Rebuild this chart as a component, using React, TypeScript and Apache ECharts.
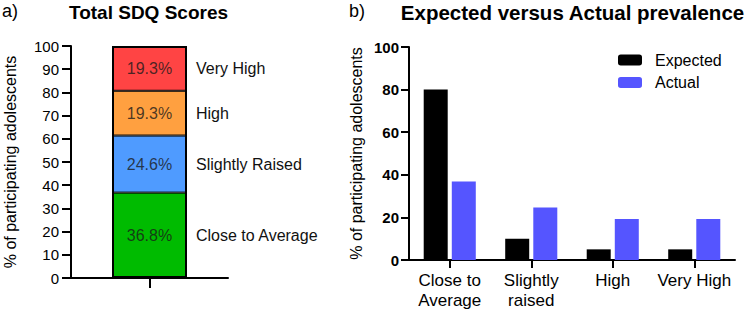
import React, { useEffect, useRef } from 'react';
import * as echarts from 'echarts';

// ---- Data ----
const sdqCategories = ['Close to Average', 'Slightly Raised', 'High', 'Very High'];
const sdqPercentages = [36.8, 24.6, 19.3, 19.3];
const sdqAxis = { min: 0, max: 100, interval: 10 };

const prevalenceCategories = ['Close to\nAverage', 'Slightly\nraised', 'High', 'Very High'];
const expectedValues = [80, 10, 5, 5];
const actualValues = [36.8, 24.6, 19.3, 19.3];
const prevalenceAxis = { min: 0, max: 100, interval: 20 };

const yAxisTitle = '% of participating adolescents';

// ---- Styles ----
const FONT = '"Liberation Sans", Arial, Helvetica, sans-serif';
const sdqColors = ['#00BB00', '#4F9BFF', '#FFA040', '#FF4444'];
const expectedColor = '#000000';
const actualColor = '#5555FF';

export default function App() {
  const ref = useRef<HTMLDivElement>(null);

  useEffect(() => {
    if (!ref.current) return;
    const chart = echarts.init(ref.current, undefined, { renderer: 'svg' });

    // midpoints of each stacked segment for the inside % labels
    const mids: number[] = [];
    let acc = 0;
    sdqPercentages.forEach((v) => {
      mids.push(acc + v / 2);
      acc += v;
    });
    const total = acc;

    const stackSeries = sdqCategories.map((name, i) => ({
      type: 'bar',
      name,
      stack: 'sdq',
      xAxisIndex: 0,
      yAxisIndex: 0,
      data: [sdqPercentages[i]],
      barWidth: 75,
      barGap: '-100%',
      itemStyle: { color: sdqColors[i], borderColor: '#000', borderWidth: 1 },
      label: {
        show: true,
        position: 'right',
        distance: 9,
        formatter: name,
        fontSize: 16,
        color: '#111',
        fontFamily: FONT,
      },
      emphasis: { disabled: true },
    }));

    const frameSeries = {
      type: 'bar',
      name: 'frame',
      xAxisIndex: 0,
      yAxisIndex: 0,
      data: [total],
      barWidth: 75,
      barGap: '-100%',
      itemStyle: { color: 'rgba(0,0,0,0)', borderColor: '#000', borderWidth: 2 },
      z: 3,
      silent: true,
      emphasis: { disabled: true },
    };

    const pctSeries = {
      type: 'scatter',
      name: 'pct',
      xAxisIndex: 0,
      yAxisIndex: 0,
      symbolSize: 1,
      itemStyle: { color: 'rgba(0,0,0,0)' },
      data: mids.map((m) => [0, m]),
      label: {
        show: true,
        position: 'inside',
        formatter: (p: any) => `${sdqPercentages[p.dataIndex]}%`,
        fontSize: 16,
        color: '#1a1a1a',
        fontFamily: FONT,
      },
      z: 5,
      emphasis: { disabled: true },
    };

    const axisLineStyle = { lineStyle: { color: '#000', width: 2 } };

    chart.setOption({
      animation: false,
      textStyle: { fontFamily: FONT },
      grid: [
        { left: 71, top: 46, width: 157, height: 232 },
        { left: 409, top: 47, width: 326, height: 213 },
      ],
      legend: {
        data: ['Expected', 'Actual'],
        orient: 'vertical',
        left: 618,
        top: 52,
        padding: 0,
        itemWidth: 24,
        itemHeight: 11,
        itemGap: 6.5,
        textStyle: { fontSize: 16, color: '#000', fontFamily: FONT, padding: [0, 0, 0, 8] },
        selectedMode: false,
      },
      xAxis: [
        {
          type: 'category',
          gridIndex: 0,
          data: [''],
          axisLine: { show: true, ...axisLineStyle },
          axisTick: { show: true, alignWithLabel: true, length: 10, lineStyle: { color: '#000', width: 2 } },
          axisLabel: { show: false },
        },
        {
          type: 'category',
          gridIndex: 1,
          data: prevalenceCategories,
          axisLine: { show: true, ...axisLineStyle },
          axisTick: { show: true, alignWithLabel: true, length: 8, lineStyle: { color: '#000', width: 2 } },
          axisLabel: { fontSize: 17, lineHeight: 20, color: '#000', margin: 10, fontFamily: FONT, interval: 0 },
        },
      ],
      yAxis: [
        {
          type: 'value',
          gridIndex: 0,
          min: sdqAxis.min,
          max: sdqAxis.max,
          interval: sdqAxis.interval,
          axisLine: { show: true, ...axisLineStyle },
          axisTick: { show: true, length: 9, lineStyle: { color: '#000', width: 2 } },
          axisLabel: { fontSize: 15, color: '#000', margin: 12, fontFamily: FONT },
          splitLine: { show: false },
          name: yAxisTitle,
          nameLocation: 'middle',
          nameGap: 53,
          nameTextStyle: { fontSize: 16, color: '#000', fontFamily: FONT },
        },
        {
          type: 'value',
          gridIndex: 1,
          min: prevalenceAxis.min,
          max: prevalenceAxis.max,
          interval: prevalenceAxis.interval,
          axisLine: { show: true, ...axisLineStyle },
          axisTick: { show: true, length: 8, lineStyle: { color: '#000', width: 2 } },
          axisLabel: { fontSize: 15, fontWeight: 'bold', color: '#000', margin: 10, fontFamily: FONT },
          splitLine: { show: false },
          name: yAxisTitle,
          nameLocation: 'middle',
          nameGap: 45,
          nameTextStyle: { fontSize: 16, color: '#000', fontFamily: FONT },
        },
      ],
      series: [
        ...stackSeries,
        frameSeries,
        pctSeries,
        {
          type: 'bar',
          name: 'Expected',
          xAxisIndex: 1,
          yAxisIndex: 1,
          data: expectedValues,
          barWidth: 24,
          barGap: '17%',
          itemStyle: { color: expectedColor },
          emphasis: { disabled: true },
        },
        {
          type: 'bar',
          name: 'Actual',
          xAxisIndex: 1,
          yAxisIndex: 1,
          data: actualValues,
          barWidth: 24,
          barGap: '17%',
          itemStyle: { color: actualColor },
          emphasis: { disabled: true },
        },
      ],
      graphic: [
        {
          type: 'text',
          x: 2,
          y: 11,
          style: { text: 'a)', fontSize: 18, fontFamily: FONT, fill: '#000', align: 'left', verticalAlign: 'middle' },
        },
        {
          type: 'text',
          x: 148.5,
          y: 12,
          style: { text: 'Total SDQ Scores', fontSize: 19, fontWeight: 'bold', fontFamily: FONT, fill: '#000', align: 'center', verticalAlign: 'middle' },
        },
        {
          type: 'text',
          x: 349,
          y: 11,
          style: { text: 'b)', fontSize: 18, fontFamily: FONT, fill: '#000', align: 'left', verticalAlign: 'middle' },
        },
        {
          type: 'text',
          x: 572.5,
          y: 12,
          style: { text: 'Expected versus Actual prevalence', fontSize: 20.5, fontWeight: 'bold', fontFamily: FONT, fill: '#000', align: 'center', verticalAlign: 'middle' },
        },
      ],
    });

    return () => chart.dispose();
  }, []);

  return (
    <div
      ref={ref}
      style={{ position: 'fixed', left: 0, top: 0, width: 750, height: 315, background: '#fff' }}
    />
  );
}
